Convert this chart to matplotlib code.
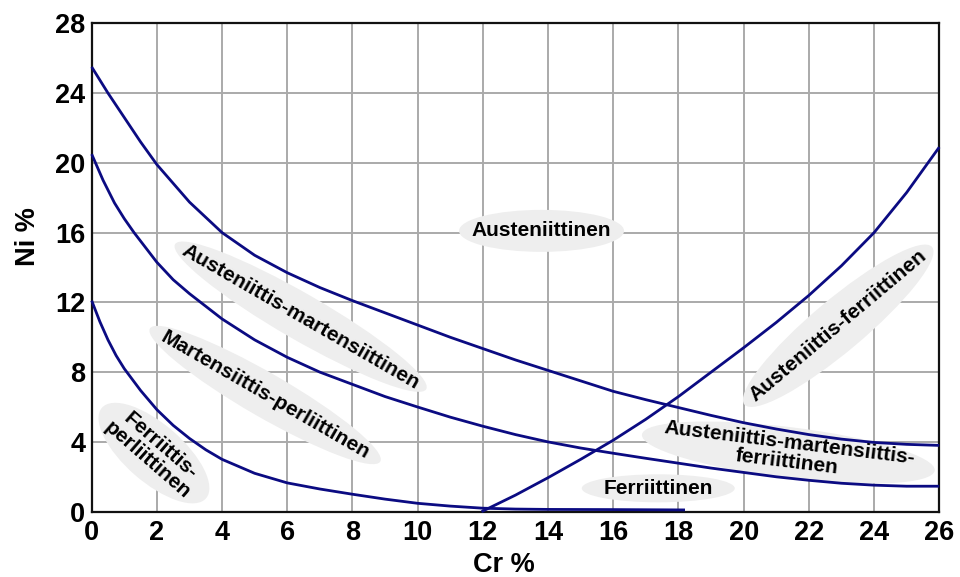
import matplotlib
matplotlib.use("Agg")
import matplotlib.pyplot as plt
from matplotlib.patches import Ellipse
from matplotlib.transforms import ScaledTranslation

plt.rcParams['font.family'] = ['Liberation Sans', 'DejaVu Sans']
plt.rcParams['font.weight'] = 'bold'

# boundary curves (Cr %, Ni %)
a_cr = [0, 0.5, 1, 1.5, 2, 3, 4, 5, 6, 7, 8, 9, 10, 11, 12, 13, 14, 15, 16,
        17, 18, 19, 20, 21, 22, 23, 24, 25, 26]
a_ni = [25.5, 24.0, 22.6, 21.2, 19.9, 17.75, 16.0, 14.7, 13.7, 12.85, 12.1,
        11.4, 10.7, 10.0, 9.35, 8.7, 8.1, 7.5, 6.9, 6.42, 5.97, 5.52, 5.1,
        4.74, 4.42, 4.16, 3.97, 3.86, 3.8]

b_cr = [0, 0.35, 0.7, 1, 1.3, 2, 2.5, 3, 4, 5, 6, 7, 8, 9, 10, 11, 12, 13,
        14, 15, 16, 17, 18, 19, 20, 21, 22, 23, 24, 25, 26]
b_ni = [20.5, 19.0, 17.7, 16.8, 16.0, 14.3, 13.3, 12.5, 11.05, 9.85, 8.85,
        8.0, 7.3, 6.6, 6.0, 5.42, 4.9, 4.42, 4.0, 3.65, 3.35, 3.06, 2.78, 2.5,
        2.25, 2.0, 1.8, 1.63, 1.52, 1.46, 1.46]

c_cr = [0, 0.25, 0.5, 0.75, 1, 1.5, 2, 2.5, 3, 3.5, 4, 5, 6, 7, 8, 9, 10, 11,
        12, 13, 14, 16, 18.2]
c_ni = [12.1, 10.9, 9.85, 8.95, 8.2, 6.95, 5.85, 4.95, 4.2, 3.55, 3.0, 2.2,
        1.65, 1.3, 1.0, 0.72, 0.48, 0.32, 0.2, 0.15, 0.13, 0.12, 0.1]

d_cr = [11.96, 13, 14, 15, 16, 17, 18, 19, 20, 21, 22, 23, 24, 25, 26]
d_ni = [0, 0.95, 1.95, 3.0, 4.1, 5.3, 6.6, 8.0, 9.4, 10.85, 12.4, 14.1, 16.0,
        18.3, 20.9]

# region labels: text, Cr, Ni, angle, ellipse width/height (px)
labels = [
    ("Austeniittinen", 13.8, 16.1, 0, 165, 42),
    ("Austeniittis-martensiittinen", 6.41, 11.18, -30, 290, 46),
    ("Martensiittis-perliittinen", 5.32, 6.69, -30, 266, 44),
    ("Ferriittis-\nperliittinen", 1.91, 3.36, -41, 138, 58),
    ("Austeniittis-ferriittinen", 22.9, 10.66, 40, 245, 52),
    ("Austeniittis-martensiittis-\nferriittinen", 21.37, 3.39, -7, 295, 51),
    ("Ferriittinen", 17.38, 1.34, 0, 153, 28),
]

fig = plt.figure(figsize=(9.6, 5.77), dpi=100)
ax = fig.add_axes([0.0955, 0.1132, 0.8829, 0.8464])

ax.set_xlim(0, 26)
ax.set_ylim(0, 28)
ax.set_xticks(range(0, 27, 2))
ax.set_yticks(range(0, 29, 4))
ax.grid(True, color='#aaaaaa', lw=1.4, zorder=0)
ax.set_axisbelow(True)
ax.tick_params(length=0, labelsize=19.5)
ax.tick_params(axis='x', pad=6)
ax.tick_params(axis='y', pad=4.5)
for s in ax.spines.values():
    s.set_linewidth(1.6)
    s.set_color('#111111')

for x, y in [(a_cr, a_ni), (b_cr, b_ni), (c_cr, c_ni), (d_cr, d_ni)]:
    ax.plot(x, y, color='#0b0b82', lw=2.0, zorder=3, clip_on=False,
            solid_capstyle='butt', solid_joinstyle='round')

for txt, cx, cy, ang, w, h in labels:
    tr = ScaledTranslation(cx, cy, ax.transData)
    ax.add_patch(Ellipse((0, 0), w, h, angle=ang, transform=tr,
                         facecolor='#eeeeee', edgecolor='none', zorder=2))
    ax.text(cx, cy, txt, rotation=ang, rotation_mode='anchor', ha='center',
            va='center', fontsize=15, fontweight='bold', linespacing=1.0,
            multialignment='center', zorder=4)

ax.set_xlabel('Cr %', fontsize=19.5, fontweight='bold')
ax.set_ylabel('Ni %', fontsize=19.5, fontweight='bold')
ax.xaxis.set_label_coords(0.486, -0.082)
ax.yaxis.set_label_coords(-0.06, 0.5625)

fig.savefig('out.png', dpi=100)
